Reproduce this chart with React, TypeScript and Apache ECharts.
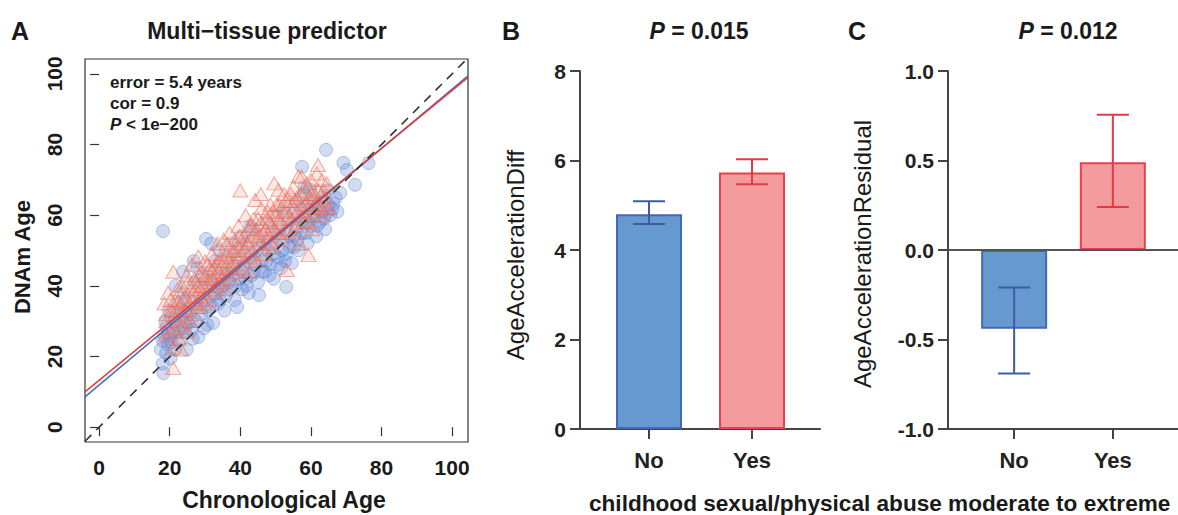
import React, { useEffect, useRef } from "react";
import * as echarts from "echarts";

// ---------- Panel A data (Chronological Age, DNAm Age) ----------
const blueCircles: [number, number][] = [
  [17.5, 22], [18, 24.5], [18.2, 15.3], [18, 18], [18.5, 26], [19, 21], [19.2, 28], [18.7, 30], [19.5, 23.5], [20, 25],
  [18.1, 55.5], [20.5, 31], [20.2, 19.5], [19.8, 33],
  [21, 27], [21.5, 22], [22, 29], [22.3, 35], [22.8, 24.5], [23, 31.5], [23.5, 27], [24, 38], [24.2, 33], [24.8, 22],
  [25, 29.5], [25.3, 36], [21.7, 40], [23.8, 44],
  [26, 30], [26.5, 25], [27, 41], [27.3, 34], [27.8, 45], [28.1, 25.5], [28.5, 38], [29, 32], [29.4, 42], [30, 36],
  [30.3, 53.3], [30.6, 29], [26.8, 47],
  [31, 40], [31.5, 44], [32, 34], [32.3, 29.5], [32.8, 47], [33, 38], [33.5, 42], [34, 50], [34.2, 36], [34.8, 45],
  [35, 40], [35.5, 33], [31.8, 52],
  [36, 43], [36.4, 48], [37, 39], [37.5, 52], [38, 45], [38.4, 36], [39, 48], [39.1, 34], [39.6, 42], [40, 50],
  [40.3, 54], [40.5, 39],
  [41, 46], [41.5, 42], [42, 52], [42.4, 38], [43, 48], [43.5, 56], [44, 44], [44.5, 50], [45, 41], [45.3, 37.4],
  [45.6, 54], [42.8, 57],
  [46, 47], [46.5, 52], [47, 44], [47.5, 58], [48, 50], [48.5, 46], [49, 55], [49.5, 42], [50, 52], [50.4, 60], [50.8, 48],
  [51, 56], [51.5, 45], [52, 53], [52.4, 62], [53, 39.7], [53, 49], [53.5, 58], [54, 51], [54.6, 46.4], [55, 60],
  [55.4, 54], [55.8, 64],
  [56, 57], [56.5, 50], [57, 62], [57.5, 73.7], [57.6, 55], [58, 66], [58.5, 59], [59, 52], [59.5, 63], [59.8, 67.2],
  [60, 57], [60.5, 61], [58.2, 68],
  [61, 60], [61.5, 54], [62, 63], [62.5, 58], [63, 65], [63.4, 61], [64, 56], [64.3, 78.5], [64.5, 60.5], [65, 63], [64.8, 67],
  [66.4, 63.3], [67, 65], [68.3, 66.3], [69.2, 74.8], [70.2, 72.8], [72.5, 68.6], [76.3, 74.7], [67.5, 61],
  [19.6, 26.5], [20.6, 24], [21.3, 30], [22.5, 27], [23.3, 33], [24.4, 28], [25.6, 32], [26.2, 27.5], [27.5, 30],
  [28.8, 35], [29.7, 28], [30.9, 33], [31.6, 37], [32.5, 40], [33.7, 35], [34.6, 39], [35.8, 37], [36.7, 41],
  [37.8, 43], [38.8, 40], [40.8, 44], [41.8, 40], [43.2, 43], [44.2, 46], [46.2, 44], [47.3, 47], [48.2, 43],
  [49.2, 49], [50.6, 46], [51.8, 50], [52.7, 47], [53.8, 54], [55.2, 51], [56.2, 53], [57.3, 58], [58.7, 55],
  [59.3, 58], [60.8, 64], [61.8, 57], [62.7, 61], [63.8, 59], [65.5, 60], [66, 61.8],
];

const redTriangles: [number, number][] = [
  [18.5, 35], [19, 30], [19.5, 38], [20, 27], [20.5, 33], [21, 44], [21, 16.7], [21.5, 36], [22, 30], [22.2, 39],
  [18.8, 26], [20.8, 22.5], [22.6, 25],
  [23, 34], [23.5, 40], [24, 31], [24.3, 37], [24.8, 43], [25, 27], [25.5, 35], [26, 39], [26.3, 46], [26.8, 32],
  [27, 42], [27.5, 37], [23.2, 22],
  [28, 40], [28.1, 48.3], [28.5, 34], [29, 44], [29.5, 38], [30, 47], [30.4, 41], [31, 36], [31.4, 45], [32, 49],
  [32.3, 42], [32.8, 38],
  [33, 46], [33.5, 52], [34, 41], [34.4, 48], [35, 44], [35.3, 53], [35.8, 39], [36, 49], [36.5, 45], [37, 55],
  [37.3, 42], [37.8, 50],
  [38, 47], [38.5, 53], [39, 44], [39.5, 57], [40, 67], [40, 49], [40.5, 45], [41, 54], [41.5, 60], [41.8, 48],
  [42, 52], [42.5, 44],
  [43, 57], [43.5, 50], [44, 54], [44.2, 64.3], [44.5, 47], [45, 59], [45.5, 52], [46, 62], [46.4, 55], [47, 49],
  [47.5, 59], [45.8, 66],
  [48, 54], [48.5, 63], [49, 57], [49.4, 51], [50, 60], [50.5, 55], [50.8, 67.2], [51, 63], [51.5, 58], [52, 53],
  [52.4, 66], [49.6, 69],
  [53, 61], [53.2, 44.5], [53.5, 56], [54, 64], [54.5, 59], [55, 68], [55.3, 62], [55.8, 57], [56, 65], [56.5, 71],
  [57, 60], [57.4, 70.9], [56.8, 52],
  [58, 63], [58.5, 67], [59, 58], [59.3, 48.7], [59.6, 65], [60, 70], [60.5, 62], [61, 66], [61.7, 71.8], [62, 74.2],
  [62.5, 64], [63, 60], [63.5, 67], [60.3, 56],
  [64, 65], [65, 62], [64.5, 69],
  [19.2, 32], [20.2, 36], [21.2, 28], [21.8, 33], [22.4, 35.5], [23.4, 29], [23.8, 36], [24.6, 33], [25.2, 41],
  [25.8, 30], [26.4, 36], [27.2, 39], [27.8, 34], [28.4, 43], [28.8, 37], [29.2, 40], [29.8, 35], [30.2, 43],
  [30.8, 46], [31.2, 39], [31.8, 42], [32.6, 45], [33.2, 40], [33.8, 44], [34.2, 47], [34.8, 42], [35.5, 47],
  [36.2, 52], [36.8, 47], [37.4, 45], [38.2, 50], [38.8, 46], [39.3, 51], [39.8, 54], [40.6, 52], [41.2, 50],
  [42.2, 56], [42.8, 53], [43.4, 47], [43.8, 59], [44.6, 56], [45.2, 54], [45.9, 58], [46.6, 51], [47.2, 56],
  [47.8, 61], [48.3, 58], [48.8, 52], [49.3, 61], [49.8, 56], [50.3, 63], [51.2, 59], [51.8, 55], [52.3, 61],
  [52.8, 64], [53.8, 60], [54.3, 66], [54.8, 55], [55.5, 64], [56.3, 61], [57.2, 66], [57.8, 58], [58.3, 61],
  [58.8, 69], [59.4, 62], [60.2, 66], [60.8, 60], [61.3, 63], [62.2, 67], [62.8, 62], [63.2, 70], [64.2, 63],
];

const blueFit: [number, number][] = [[-4, 8.6], [104.5, 99.4]];
const redFit: [number, number][] = [[-4, 10], [104.5, 99.0]];
const identityLine: [number, number][] = [[-4, -4], [104.5, 104.5]];
const ageTicks = [0, 20, 40, 60, 80, 100];

// ---------- Panels B and C ----------
const groups = ["No", "Yes"];
const groupPos = [1, 2];
const diffMean = [4.8, 5.73];
const diffLow = [4.58, 5.47];
const diffHigh = [5.09, 6.03];
const residMean = [-0.44, 0.49];
const residLow = [-0.69, 0.24];
const residHigh = [-0.21, 0.755];

const FONT = '"Liberation Sans", Arial, Helvetica, sans-serif';
const barFill = ["#6699d0", "#f49ba0"];
const barBorder = ["#4468b2", "#e8414b"];
const errColor = ["#3d5ca8", "#e23a44"];

function errorSeries(gridIdx: number, low: number[], high: number[]) {
  return {
    type: "custom",
    xAxisIndex: gridIdx,
    yAxisIndex: gridIdx,
    z: 5,
    data: groupPos.map((p, i) => [p, low[i], high[i], i]),
    renderItem: (params: any, api: any) => {
      const x = api.value(0);
      const lo = api.coord([x, api.value(1)]);
      const hi = api.coord([x, api.value(2)]);
      const c = errColor[api.value(3)];
      const hw = 16;
      const st = { stroke: c, lineWidth: 2 };
      return {
        type: "group",
        children: [
          { type: "line", shape: { x1: lo[0], y1: lo[1], x2: hi[0], y2: hi[1] }, style: st },
          { type: "line", shape: { x1: lo[0] - hw, y1: lo[1], x2: lo[0] + hw, y2: lo[1] }, style: st },
          { type: "line", shape: { x1: hi[0] - hw, y1: hi[1], x2: hi[0] + hw, y2: hi[1] }, style: st },
        ],
      };
    },
  };
}

function barSeries(gridIdx: number, means: number[], zeroLine: boolean) {
  const s: any = {
    type: "bar",
    xAxisIndex: gridIdx,
    yAxisIndex: gridIdx,
    barWidth: 66,
    data: groupPos.map((p, i) => ({
      value: [p, means[i]],
      itemStyle: { color: barFill[i], borderColor: barBorder[i], borderWidth: 2 },
    })),
  };
  if (zeroLine) {
    s.markLine = {
      silent: true,
      symbol: "none",
      label: { show: false },
      lineStyle: { color: "#555", width: 2, type: "solid" },
      data: [{ yAxis: 0 }],
    };
  }
  return s;
}

function catXAxis(gridIdx: number) {
  return {
    type: "value",
    gridIndex: gridIdx,
    min: 0.33,
    max: 2.66,
    axisLine: { show: true, onZero: false, lineStyle: { color: "#444", width: 2 } },
    axisTick: { show: true, customValues: groupPos, length: 10, lineStyle: { color: "#444", width: 2 } },
    axisLabel: {
      customValues: groupPos,
      formatter: (v: number) => groups[Math.round(v) - 1] ?? "",
      color: "#222",
      fontFamily: FONT,
      fontWeight: "bold",
      fontSize: 22,
      margin: 20,
    },
    splitLine: { show: false },
  };
}

function barYAxis(gridIdx: number, min: number, max: number, interval: number, dec: number) {
  return {
    type: "value",
    gridIndex: gridIdx,
    min,
    max,
    interval,
    axisLine: { show: true, onZero: false, lineStyle: { color: "#444", width: 2 } },
    axisTick: { show: true, length: 10, lineStyle: { color: "#444", width: 2 } },
    axisLabel: {
      formatter: (v: number) => v.toFixed(dec),
      color: "#222",
      fontFamily: FONT,
      fontWeight: "bold",
      fontSize: 21,
      margin: 14,
    },
    splitLine: { show: false },
  };
}

function txt(text: string, x: number, y: number, size: number, opts: any = {}) {
  const align = opts.align || "left";
  return {
    type: "text",
    x,
    y,
    rotation: opts.rotation || 0,
    style: {
      text,
      fill: "#1a1a1a",
      fontFamily: FONT,
      fontSize: size,
      fontWeight: opts.weight || "bold",
      align,
      textAlign: align,
      verticalAlign: "middle",
      textVerticalAlign: "middle",
      rich: opts.rich,
    },
  };
}

const italicRich = (size: number) => ({
  it: { fontStyle: "italic", fontWeight: "bold", fontSize: size, fontFamily: FONT, fill: "#1a1a1a" },
  n: { fontWeight: "bold", fontSize: size, fontFamily: FONT, fill: "#1a1a1a" },
});

export default function App() {
  const ref = useRef<HTMLDivElement>(null);
  useEffect(() => {
    if (!ref.current) return;
    const chart = echarts.init(ref.current, null, { renderer: "svg" });
    const option: any = {
      animation: false,
      backgroundColor: "#ffffff",
      grid: [
        { left: 85, top: 59, width: 383, height: 383, show: true, borderColor: "#333", borderWidth: 1.2, backgroundColor: "transparent" },
        { left: 580, top: 71, width: 240, height: 358 },
        { left: 948, top: 71, width: 240, height: 358 },
      ],
      xAxis: [
        {
          type: "value",
          gridIndex: 0,
          min: -4,
          max: 104.5,
          axisLine: { show: false },
          axisTick: { show: true, customValues: ageTicks, length: 9, lineStyle: { color: "#333", width: 1.2 } },
          axisLabel: {
            customValues: ageTicks,
            color: "#1a1a1a",
            fontFamily: FONT,
            fontWeight: "bold",
            fontSize: 21,
            margin: 15,
          },
          splitLine: { show: false },
        },
        catXAxis(1),
        catXAxis(2),
      ],
      yAxis: [
        {
          type: "value",
          gridIndex: 0,
          min: -4.2,
          max: 104.2,
          axisLine: { show: false },
          axisTick: { show: true, customValues: ageTicks, length: 9, lineStyle: { color: "#333", width: 1.2 } },
          axisLabel: {
            customValues: ageTicks,
            rotate: 90,
            color: "#1a1a1a",
            fontFamily: FONT,
            fontWeight: "bold",
            fontSize: 21,
            margin: 20,
          },
          splitLine: { show: false },
        },
        barYAxis(1, 0, 8, 2, 0),
        barYAxis(2, -1, 1, 0.5, 1),
      ],
      series: [
        {
          type: "scatter",
          xAxisIndex: 0,
          yAxisIndex: 0,
          symbol: "circle",
          symbolSize: 13,
          data: blueCircles,
          itemStyle: { color: "rgba(105,140,215,0.38)", borderColor: "rgba(75,110,200,0.45)", borderWidth: 1 },
        },
        {
          type: "scatter",
          xAxisIndex: 0,
          yAxisIndex: 0,
          symbol: "triangle",
          symbolSize: [15, 13],
          data: redTriangles,
          itemStyle: { color: "rgba(245,150,130,0.28)", borderColor: "rgba(235,95,75,0.65)", borderWidth: 1 },
        },
        {
          type: "line", xAxisIndex: 0, yAxisIndex: 0, data: blueFit, symbol: "none",
          lineStyle: { color: "#4a6fbf", width: 1.6 }, z: 4,
        },
        {
          type: "line", xAxisIndex: 0, yAxisIndex: 0, data: redFit, symbol: "none",
          lineStyle: { color: "#e0403c", width: 1.6 }, z: 4,
        },
        {
          type: "line", xAxisIndex: 0, yAxisIndex: 0, data: identityLine, symbol: "none",
          lineStyle: { color: "#333", width: 1.6, type: [9, 7] }, z: 4,
        },
        barSeries(1, diffMean, false),
        errorSeries(1, diffLow, diffHigh),
        barSeries(2, residMean, true),
        errorSeries(2, residLow, residHigh),
      ],
      graphic: [
        txt("A", 11, 31, 25),
        txt("Multi\u2212tissue predictor", 267, 31, 23, { align: "center" }),
        txt("error = 5.4 years", 110, 82, 17),
        txt("cor = 0.9", 110, 103, 17),
        txt("{it|P}{n| < 1e\u2212200}", 110, 124, 17, { rich: italicRich(17) }),
        txt("DNAm Age", 22, 257, 22, { align: "center", rotation: Math.PI / 2 }),
        txt("Chronological Age", 284, 500, 23, { align: "center" }),
        txt("B", 502, 31, 25),
        txt("{it|P}{n| = 0.015}", 699, 31, 23, { align: "center", rich: italicRich(23) }),
        txt("AgeAccelerationDiff", 515, 255, 24, { align: "center", rotation: Math.PI / 2, weight: "normal" }),
        txt("C", 848, 31, 25),
        txt("{it|P}{n| = 0.012}", 1068, 31, 23, { align: "center", rich: italicRich(23) }),
        txt("AgeAccelerationResidual", 862, 254, 24, { align: "center", rotation: Math.PI / 2, weight: "normal" }),
        txt("childhood sexual/physical abuse moderate to extreme", 589, 503, 22.6),
      ],
    };
    chart.setOption(option);
    return () => chart.dispose();
  }, []);
  return (
    <div
      ref={ref}
      style={{ position: "absolute", left: 0, top: 0, width: 1178, height: 515, background: "#fff" }}
    />
  );
}
